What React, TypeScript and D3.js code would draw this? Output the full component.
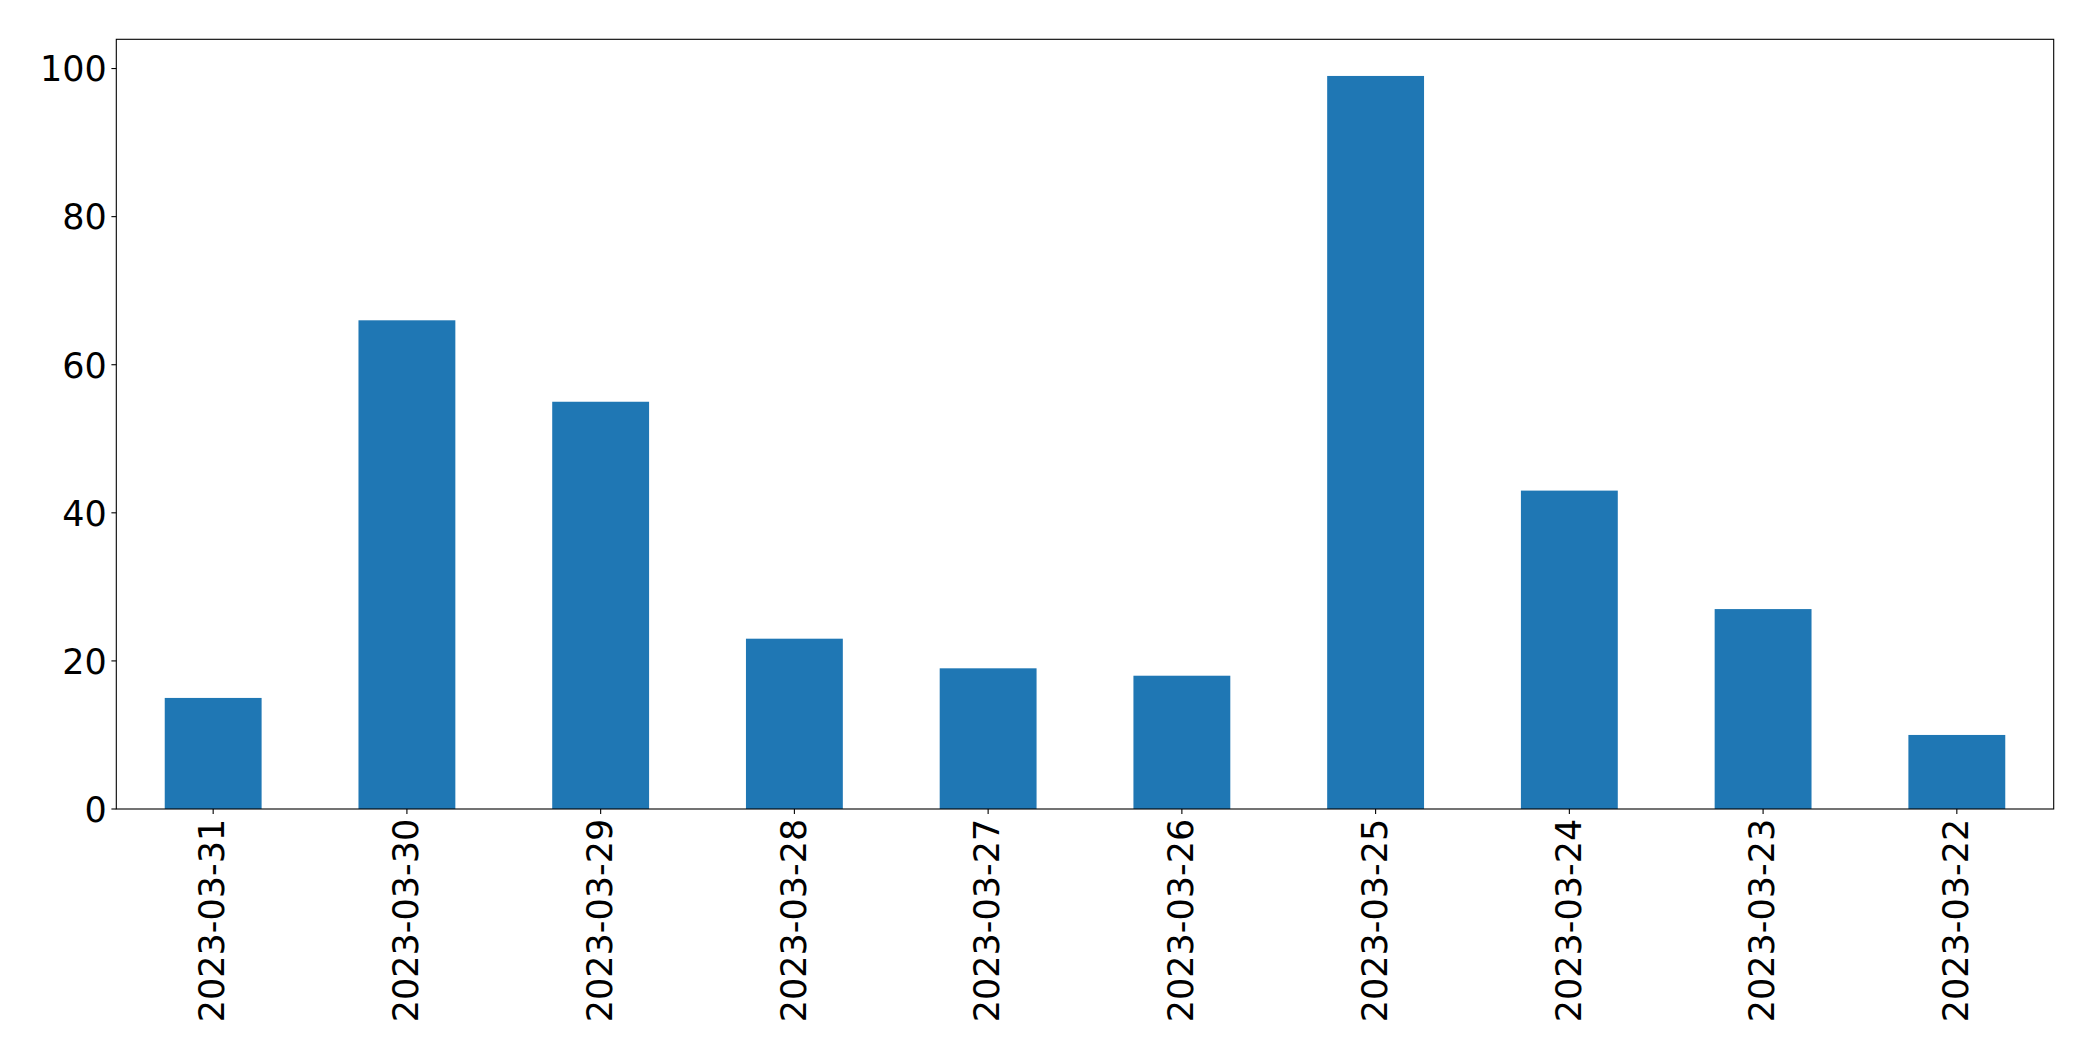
import React from "react";
import * as d3 from "d3";

const categories = [
  "2023-03-31",
  "2023-03-30",
  "2023-03-29",
  "2023-03-28",
  "2023-03-27",
  "2023-03-26",
  "2023-03-25",
  "2023-03-24",
  "2023-03-23",
  "2023-03-22",
];
const values = [15, 66, 55, 23, 19, 18, 99, 43, 27, 10];
const yTicks = [0, 20, 40, 60, 80, 100];

const W = 2093;
const H = 1061;
const M = { left: 116.3, right: 2053.7, top: 39.3, bottom: 809 };
const FONT = "'DejaVu Sans', sans-serif";
const FS = 35;

export default function App() {
  const n = categories.length;
  const x = d3.scaleLinear().domain([-0.5, n - 0.5]).range([M.left, M.right]);
  const yMax = d3.max(values)! * 1.05;
  const y = d3.scaleLinear().domain([0, yMax]).range([M.bottom, M.top]);
  const barW = x(0.25) - x(-0.25);

  return (
    <svg
      width={W}
      height={H}
      style={{ position: "absolute", left: 0, top: 0, background: "#fff" }}
    >
      <rect x={0} y={0} width={W} height={H} fill="#fff" />
      {values.map((v, i) => (
        <rect
          key={categories[i]}
          x={x(i) - barW / 2}
          y={y(v)}
          width={barW}
          height={y(0) - y(v)}
          fill="#1f77b4"
        />
      ))}
      <rect
        x={M.left}
        y={M.top}
        width={M.right - M.left}
        height={M.bottom - M.top}
        fill="none"
        stroke="#000"
        strokeWidth={1.1}
      />
      {yTicks.map((t) => (
        <g key={t}>
          <line x1={M.left - 4.9} x2={M.left} y1={y(t)} y2={y(t)} stroke="#000" strokeWidth={1.1} />
          <text
            x={M.left - 9.5}
            y={y(t)}
            dy={FS * 0.365}
            textAnchor="end"
            fontFamily={FONT}
            fontSize={FS}
            fill="#000"
          >
            {t}
          </text>
        </g>
      ))}
      {categories.map((c, i) => (
        <g key={c}>
          <line x1={x(i)} x2={x(i)} y1={M.bottom} y2={M.bottom + 4.9} stroke="#000" strokeWidth={1.1} />
          <text
            transform={`translate(${x(i) + FS * 0.365 - 1.5}, ${M.bottom + 9.8}) rotate(-90)`}
            textAnchor="end"
            fontFamily={FONT}
            fontSize={FS}
            fill="#000"
          >
            {c}
          </text>
        </g>
      ))}
    </svg>
  );
}
